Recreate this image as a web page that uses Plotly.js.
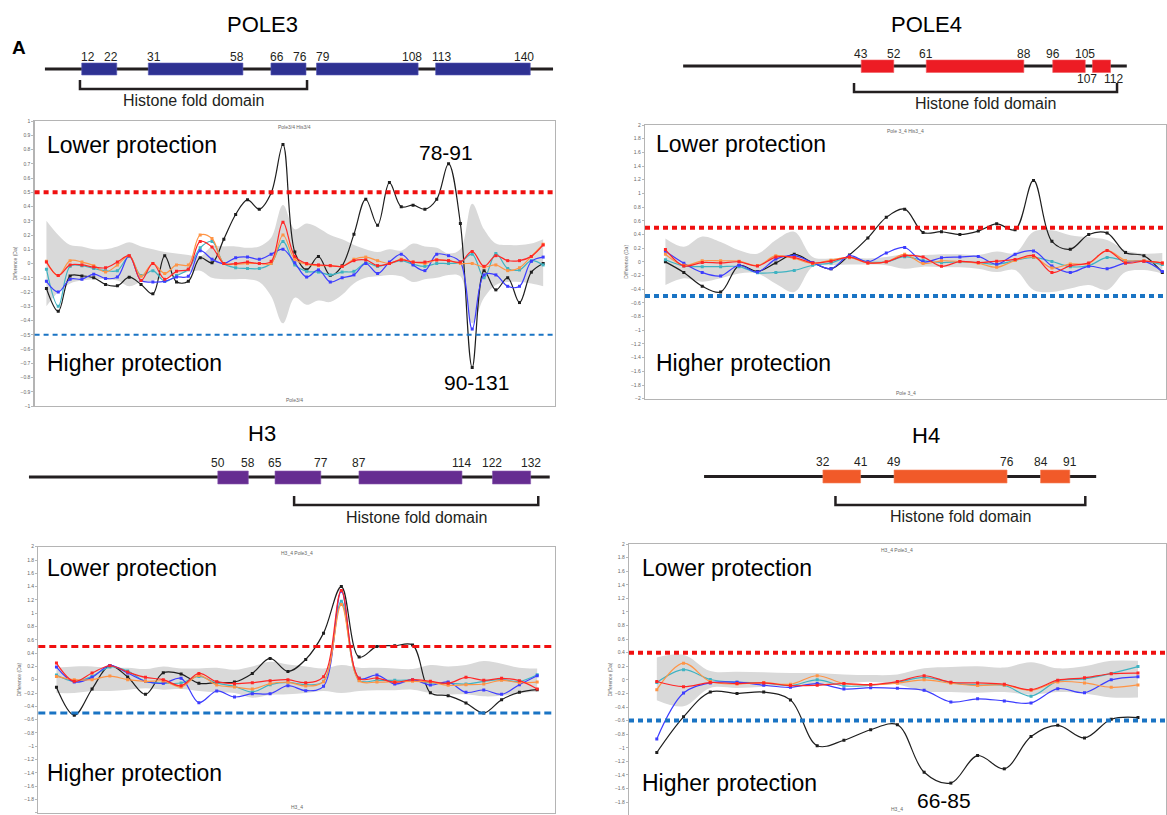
<!DOCTYPE html>
<html><head><meta charset="utf-8">
<script src="https://cdn.plot.ly/plotly-3.0.1.min.js"></script>
<style>html,body{margin:0;padding:0;background:#fff}#chart{width:1167px;height:815px}</style>
</head><body><div id="chart"></div>
<script>
// ================= DATA =================
// Domain diagrams (residue numbers)
const pole3Starts = [12, 31, 66, 79, 113];
const pole3Ends   = [22, 58, 76, 108, 140];
const pole3Backbone = [1.5, 146.5];
const pole3Fold = [11.5, 76.3];

const pole4Starts = [43, 61, 96, 107];
const pole4Ends   = [52, 88, 105, 112];
const pole4Backbone = [-6.3, 116.5];
const pole4Fold = [41, 113.8];

const h3Starts = [50, 65, 87, 122];
const h3Ends   = [58, 77, 114, 132];
const h3Backbone = [0.5, 137];
const h3Fold = [70, 134];

const h4Starts = [32, 49, 84];
const h4Ends   = [41, 76, 91];
const h4Backbone = [3.6, 97.3];
const h4Fold = [35, 94.7];

// Deuterium uptake difference plots (Da), one value per peptide
const pole3Black  = [-0.175,-0.335,-0.087,-0.087,-0.10,-0.147,-0.157,-0.096,-0.147,-0.213,0.054,-0.129,-0.124,0.04,0.005,0.171,0.344,0.447,0.381,0.494,0.835,0.08,-0.044,0.049,-0.084,-0.016,0.206,0.451,0.269,0.568,0.398,0.409,0.381,0.451,0.70,0.281,-0.73,-0.051,-0.185,-0.10,-0.274,-0.061,0.0];
const pole3Red    = [0.01,-0.085,-0.01,-0.01,-0.025,-0.03,0.01,0.055,-0.12,0,-0.11,-0.055,-0.04,0.155,0.115,0,0,0.01,0,0.015,0.29,0.05,0,-0.01,-0.015,-0.02,0.02,0.025,-0.015,0,0.025,0.01,0.01,0.025,0.02,0.01,0.085,-0.02,0.055,0.02,0.02,0.05,0.13];
const pole3Orange = [0.015,-0.085,0.02,0.01,-0.015,-0.06,-0.01,0.055,-0.09,0,-0.07,-0.01,-0.01,0.2,0.175,0,-0.005,0,0,0,0.2,0.03,-0.005,-0.015,-0.015,-0.02,0.03,0.045,0.02,0,0.03,0.01,0,0.025,0.02,0,0,-0.025,-0.01,-0.05,-0.03,0.05,0.135];
const pole3Teal   = [-0.04,-0.3,-0.02,-0.015,-0.035,-0.05,-0.05,0.05,-0.085,-0.05,-0.125,-0.085,-0.04,0.11,0.155,0,-0.03,-0.035,-0.035,0,0.155,-0.01,-0.055,-0.06,-0.08,-0.06,-0.055,0.005,-0.02,0,0.02,-0.005,-0.02,0,0,0.01,0.065,-0.1,0.07,-0.035,-0.045,0.02,-0.01];
const pole3Blue   = [-0.125,-0.2,-0.11,-0.11,-0.075,-0.105,-0.095,0.055,-0.12,-0.13,-0.125,-0.095,-0.09,0.09,0.03,0,0.04,0.045,0.03,0.065,0.1,0.005,-0.095,-0.045,-0.13,-0.1,-0.08,0,-0.07,0.01,0.065,-0.01,-0.05,0.065,0.055,0.01,-0.46,-0.08,-0.08,-0.16,-0.16,0.015,0.045];
const pole3BandHi = [0.30,0.20,0.13,0.12,0.10,0.10,0.12,0.15,0.12,0.10,0.08,0.07,0.06,0.05,0.12,0.12,0.12,0.11,0.12,0.18,0.41,0.24,0.28,0.25,0.20,0.17,0.13,0.10,0.08,0.10,0.09,0.14,0.12,0.11,0.07,0.10,0.42,0.24,0.14,0.13,0.13,0.14,0.17];
const pole3BandLo = [-0.30,-0.20,-0.14,-0.12,-0.11,-0.11,-0.12,-0.16,-0.13,-0.12,-0.10,-0.08,-0.06,-0.05,-0.10,-0.11,-0.11,-0.11,-0.13,-0.23,-0.42,-0.24,-0.29,-0.26,-0.27,-0.22,-0.14,-0.10,-0.09,-0.08,-0.09,-0.13,-0.11,-0.10,-0.08,-0.09,-0.42,-0.24,-0.15,-0.13,-0.13,-0.14,-0.16];

const pole4Black  = [0,-0.155,-0.355,-0.44,-0.055,-0.14,-0.015,0.11,-0.01,-0.1,0.1,0.35,0.65,0.77,0.43,0.44,0.40,0.45,0.555,0.47,1.19,0.30,0.185,0.40,0.42,0.135,0.09,-0.155];
const pole4Red    = [0.18,-0.06,-0.01,-0.015,0,-0.06,0.07,0.065,-0.015,0.01,0.07,-0.015,0,0.09,0.07,-0.065,0.005,-0.01,0.01,0.035,0.09,-0.155,-0.055,-0.015,0.165,-0.015,0.01,-0.015];
const pole4Orange = [0.11,-0.05,0.015,0.015,0.01,-0.055,0.09,0.05,-0.025,0.025,0.06,-0.015,0,0.11,-0.025,0.015,0.005,-0.02,-0.08,0.02,0.07,-0.09,-0.03,-0.025,0.165,0.02,0.015,-0.015];
const pole4Teal   = [0.03,-0.06,-0.07,-0.07,-0.07,-0.16,-0.155,-0.125,-0.05,-0.015,0.07,0,0,0.075,0.02,-0.01,0,-0.01,-0.035,0.02,0.065,0.005,-0.07,-0.055,0.065,0.015,0.01,-0.04];
const pole4Blue   = [0.155,-0.02,-0.155,-0.205,-0.05,-0.15,0.04,0.09,-0.01,-0.1,0.09,0,0.13,0.21,0,0.06,0.07,0.08,-0.035,0.11,0.16,-0.06,-0.155,-0.065,-0.1,-0.015,0.01,-0.14];
const pole4BandHi = [0.34,0.22,0.37,0.29,0.17,0.12,0.32,0.44,0.07,0.05,0.06,0.05,0.07,0.11,0.10,0.11,0.11,0.10,0.15,0.13,0.44,0.46,0.39,0.36,0.32,0.17,0.12,0.13];
const pole4BandLo = [-0.34,-0.24,-0.29,-0.24,-0.17,-0.17,-0.32,-0.44,-0.07,-0.05,-0.04,-0.04,-0.05,-0.10,-0.07,-0.08,-0.08,-0.10,-0.15,-0.12,-0.41,-0.44,-0.39,-0.34,-0.41,-0.15,-0.12,-0.17];

const h3Black  = [-0.115,-0.535,-0.14,0.21,0.04,-0.22,0.105,0.085,-0.055,-0.04,-0.035,0.095,0.32,0.125,0.305,0.70,1.40,0.34,0.50,0.51,0.52,-0.195,-0.24,-0.35,-0.50,-0.30,-0.19,-0.15];
const h3Red    = [0.25,-0.025,0.1,0.21,0.115,0.035,0,-0.09,0.095,-0.03,-0.06,-0.045,-0.015,0,-0.045,0.045,1.34,0.02,0.025,-0.04,0,-0.025,-0.055,0.035,-0.01,0.02,-0.015,-0.14];
const h3Orange = [0.05,0,0,0.055,0,-0.025,-0.02,-0.11,0.065,-0.08,-0.11,-0.14,-0.06,-0.04,-0.095,-0.03,1.13,-0.015,-0.035,-0.03,-0.025,-0.035,-0.085,-0.075,-0.065,-0.01,-0.045,-0.035];
const h3Teal   = [0.07,-0.025,0.05,0.19,0.13,-0.025,-0.05,-0.05,0.05,-0.05,-0.1,-0.185,-0.075,-0.04,-0.075,-0.025,1.18,-0.01,-0.01,-0.01,-0.01,-0.05,-0.055,-0.065,-0.025,0,-0.025,0.075];
const h3Blue   = [0.19,-0.035,0.035,0.215,0.10,-0.025,-0.055,0.02,-0.345,-0.17,-0.26,-0.21,-0.21,-0.09,-0.165,-0.10,1.33,0.02,0.07,-0.065,0,-0.08,-0.035,-0.19,-0.155,-0.22,-0.075,0.06];
const h3BandHi = [0.18,0.20,0.20,0.18,0.18,0.16,0.20,0.17,0.17,0.18,0.15,0.20,0.27,0.23,0.20,0.17,0.22,0.18,0.18,0.17,0.16,0.22,0.20,0.22,0.28,0.24,0.18,0.17];
const h3BandLo = [-0.20,-0.20,-0.17,-0.17,-0.15,-0.13,-0.15,-0.14,-0.17,-0.19,-0.20,-0.27,-0.23,-0.22,-0.20,-0.17,-0.20,-0.17,-0.16,-0.16,-0.15,-0.20,-0.22,-0.22,-0.25,-0.24,-0.20,-0.18];

const h4Black  = [-1.07,-0.545,-0.18,-0.20,-0.18,-0.295,-0.97,-0.89,-0.735,-0.66,-1.36,-1.52,-1.115,-1.31,-0.835,-0.67,-0.855,-0.58,-0.555];
const h4Red    = [-0.025,-0.1,-0.04,-0.055,-0.045,-0.085,-0.08,-0.055,-0.07,-0.025,0.06,-0.035,-0.045,-0.065,-0.145,-0.005,0.03,0.09,0.1];
const h4Orange = [-0.145,0.245,-0.025,-0.06,-0.04,-0.065,0.06,-0.055,-0.075,-0.05,0,-0.05,-0.085,-0.075,-0.155,-0.03,-0.045,-0.11,-0.075];
const h4Teal   = [-0.04,0.15,0.005,-0.035,-0.045,-0.085,0,-0.09,-0.08,-0.035,0.035,-0.04,-0.075,-0.08,-0.24,-0.015,0.015,0.095,0.195];
const h4Blue   = [-0.87,-0.195,-0.045,-0.035,-0.08,-0.11,-0.055,-0.135,-0.115,-0.125,-0.155,-0.325,-0.28,-0.31,-0.34,-0.13,-0.19,0,0.045];
const h4BandHi = [0.33,0.37,0.13,0.12,0.11,0.10,0.10,0.08,0.07,0.08,0.17,0.19,0.20,0.18,0.26,0.17,0.20,0.28,0.28];
const h4BandLo = [-0.30,-0.39,-0.12,-0.12,-0.10,-0.09,-0.09,-0.06,-0.03,-0.07,-0.17,-0.18,-0.19,-0.18,-0.22,-0.18,-0.20,-0.26,-0.26];

// Significance thresholds (Da)
const upperThreshold = [0.5, 0.5, 0.5, 0.4];
const lowerThreshold = [-0.5, -0.5, -0.5, -0.6];

// Texts
const proteinNames = ['POLE3', 'POLE4', 'H3', 'H4'];
const plotTopTitles = ['Pole3/4 His3/4', 'Pole 3_4 His3_4', 'H3_4 Pole3_4', 'H3_4 Pole3_4'];
const plotBottomTitles = ['Pole3/4', 'Pole 3_4', 'H3_4', 'H3_4'];
const regionLabels = [['78-91', '90-131'], [], [], ['66-85']];

// ================= LAYOUT / DRAWING =================
const W = 1167, H = 815;
const P = px => px / W;
const Q = py => 1 - py / H;
const FONT = 'Liberation Sans, Arial, sans-serif';

const COL = {black:'#1e1e1e', red:'#ff2626', orange:'#ff9445', teal:'#3fb3c2', blue:'#3d3dff', band:'#d9d9d9'};

const panels = [
  {black:pole3Black, red:pole3Red, orange:pole3Orange, teal:pole3Teal, blue:pole3Blue, hi:pole3BandHi, lo:pole3BandLo,
   xdom:[34.6,555], ydom:[406,121], yrange:[-1,1], dtick:0.1, xr:[-1,43.0],
   redW:4, redDash:'5px,4px', blueW:2, blueDash:'5px,4px',
   lower:[45,145], higher:[45,363], regions:[[446,152],[476,383]]},
  {black:pole4Black, red:pole4Red, orange:pole4Orange, teal:pole4Teal, blue:pole4Blue, hi:pole4BandHi, lo:pole4BandLo,
   xdom:[645,1166], ydom:[398.7,125], yrange:[-2,2], dtick:0.2, xr:[-1.11,27.2],
   redW:4, redDash:'5px,4px', blueW:4, blueDash:'5px,4px',
   lower:[654,144], higher:[654,363], regions:[]},
  {black:h3Black, red:h3Red, orange:h3Orange, teal:h3Teal, blue:h3Blue, hi:h3BandHi, lo:h3BandLo,
   xdom:[38.3,555], ydom:[812.7,546.7], yrange:[-2,2], dtick:0.2, xr:[-1.02,28.0],
   redW:3, redDash:'7px,4px', blueW:3, blueDash:'7px,4px',
   lower:[45,568], higher:[45,773], regions:[]},
  {black:h4Black, red:h4Red, orange:h4Orange, teal:h4Teal, blue:h4Blue, hi:h4BandHi, lo:h4BandLo,
   xdom:[629,1165.5], ydom:[815,544], yrange:[-1.99,2], dtick:0.2, xr:[-1.04,19.03],
   redW:4, redDash:'5px,4px', blueW:4, blueDash:'5px,4px',
   lower:[640,568], higher:[640,783], regions:[[944,800]]}
];

const traces = [];
const shapes = [];
const annotations = [];
const layout = {
  width: W, height: H, margin:{l:0,r:0,t:0,b:0},
  paper_bgcolor:'#ffffff', plot_bgcolor:'rgba(0,0,0,0)',
  showlegend:false, font:{family:FONT, color:'#000'},
  shapes, annotations
};

panels.forEach((p, i) => {
  const n = i + 1;
  const xa = n === 1 ? 'x' : 'x' + n;
  const ya = n === 1 ? 'y' : 'y' + n;
  const xkey = n === 1 ? 'xaxis' : 'xaxis' + n;
  const ykey = n === 1 ? 'yaxis' : 'yaxis' + n;
  const idx = p.black.map((_, k) => k);
  layout[xkey] = {domain:[P(p.xdom[0]), P(p.xdom[1])], range:p.xr, anchor:ya,
    showticklabels:false, ticks:'', showgrid:false, zeroline:false,
    showline:true, mirror:true, linecolor:'#b4b4b4', linewidth:1.2};
  layout[ykey] = {domain:[Math.max(0,Q(p.ydom[0])), Q(p.ydom[1])], range:p.yrange, anchor:xa,
    dtick:p.dtick, tick0:0, ticks:'outside', ticklen:2, tickcolor:'#888', tickwidth:0.6,
    tickfont:{size:5, color:'#666'}, showgrid:false, zeroline:false,
    showline:true, mirror:true, linecolor:'#b4b4b4', linewidth:1.2,
    title:{text:'Difference (Da)', font:{size:5, color:'#666'}, standoff:2}};
  // grey confidence band
  traces.push({x:idx, y:p.lo, xaxis:xa, yaxis:ya, mode:'lines', line:{width:0, shape:'spline', color:COL.band}, hoverinfo:'skip'});
  traces.push({x:idx, y:p.hi, xaxis:xa, yaxis:ya, mode:'lines', fill:'tonexty', fillcolor:COL.band, line:{width:0, shape:'spline', color:COL.band}, hoverinfo:'skip'});
  // series
  [['black',p.black],['teal',p.teal],['blue',p.blue],['orange',p.orange],['red',p.red]].forEach(([c, ys]) => {
    traces.push({x:idx, y:ys, xaxis:xa, yaxis:ya, mode:'lines+markers',
      line:{color:COL[c], width:1.2, shape:'spline', smoothing:1},
      marker:{color:COL[c], size:3, symbol:'square'}});
  });
  // thresholds
  shapes.push({type:'line', xref:xa + ' domain', yref:ya, x0:0, x1:1, y0:upperThreshold[i], y1:upperThreshold[i],
    line:{color:'#f01010', width:p.redW, dash:p.redDash}});
  shapes.push({type:'line', xref:xa + ' domain', yref:ya, x0:0, x1:1, y0:lowerThreshold[i], y1:lowerThreshold[i],
    line:{color:'#1a74c4', width:p.blueW, dash:p.blueDash}});
  // tiny plot titles
  annotations.push({xref:xa + ' domain', yref:ya + ' domain', x:0.5, y:1, yanchor:'top', yshift:-1, showarrow:false,
    text:plotTopTitles[i], font:{size:5, color:'#666'}});
  annotations.push({xref:xa + ' domain', yref:ya + ' domain', x:0.5, y:0, yanchor:'bottom', yshift:1, showarrow:false,
    text:plotBottomTitles[i], font:{size:5, color:'#666'}});
  // big labels
  annotations.push({xref:'paper', yref:'paper', x:P(p.lower[0]), y:Q(p.lower[1]), xanchor:'left', yanchor:'middle',
    showarrow:false, text:'Lower protection', font:{size:23, color:'#000'}});
  annotations.push({xref:'paper', yref:'paper', x:P(p.higher[0]), y:Q(p.higher[1]), xanchor:'left', yanchor:'middle',
    showarrow:false, text:'Higher protection', font:{size:23, color:'#000'}});
  regionLabels[i].forEach((t, k) => {
    annotations.push({xref:'paper', yref:'paper', x:P(p.regions[k][0]), y:Q(p.regions[k][1]), xanchor:'center', yanchor:'middle',
      showarrow:false, text:t, font:{size:21, color:'#000'}});
  });
});

// ---- domain diagrams: x axes in residue numbers, y axis in pixel rows ----
layout.yaxis5 = {domain:[0,1], range:[H,0], visible:false, anchor:'x5', fixedrange:true};
const diagrams = [
  {starts:pole3Starts, ends:pole3Ends, backbone:pole3Backbone, fold:pole3Fold, color:'#2e3192', edge:'#5a5db8',
   range:[0,150], pix:[39.67,565.3], title:[262,24],
   rows:{num:57, top:63, bot:75, line:69, bTop:80, bBot:89, text:100, below:80}, shift:6, belowBox:-1},
  {starts:pole4Starts, ends:pole4Ends, backbone:pole4Backbone, fold:pole4Fold, color:'#ed1c24', edge:'#f25a60',
   range:[-10,125], pix:[669.77,1157.5], title:[926,24],
   rows:{num:54, top:60, bot:72.5, line:66, bTop:83, bBot:92, text:103, below:79}, shift:0, belowBox:3, belowShift:[-5,3]},
  {starts:h3Starts, ends:h3Ends, backbone:h3Backbone, fold:h3Fold, color:'#662d91', edge:'#8a5bb0',
   range:[0,140], pix:[27.05,561.15], title:[262,433],
   rows:{num:463, top:471, bot:484, line:477, bTop:496, bBot:505, text:517, below:490}, shift:0, belowBox:-1},
  {starts:h4Starts, ends:h4Ends, backbone:h4Backbone, fold:h4Fold, color:'#f15a29', edge:'#f5845e',
   range:[0,105], pix:[689,1128.4], title:[926,435],
   rows:{num:462, top:470, bot:483, line:476.5, bTop:496, bBot:505, text:516, below:490}, shift:0, belowBox:-1}
];

diagrams.forEach((d, i) => {
  const n = i + 5;
  const xa = 'x' + n;
  layout['xaxis' + n] = {domain:[P(d.pix[0]), P(d.pix[1])], range:d.range, anchor:'y5', visible:false, fixedrange:true};
  // backbone
  traces.push({x:d.backbone, y:[d.rows.line, d.rows.line], xaxis:xa, yaxis:'y5', mode:'lines',
    line:{color:'#231f20', width:3}, hoverinfo:'skip'});
  // bracket for histone fold domain
  traces.push({x:[d.fold[0], d.fold[0], d.fold[1], d.fold[1]], y:[d.rows.bTop, d.rows.bBot, d.rows.bBot, d.rows.bTop],
    xaxis:xa, yaxis:'y5', mode:'lines', line:{color:'#231f20', width:2.5}, hoverinfo:'skip'});
  annotations.push({xref:xa, yref:'y5', x:(d.fold[0] + d.fold[1]) / 2, y:d.rows.text, showarrow:false,
    text:'Histone fold domain', font:{size:16, color:'#231f20'}, xanchor:'center', yanchor:'middle'});
  // boxes and residue labels
  d.starts.forEach((s, k) => {
    const e = d.ends[k];
    shapes.push({type:'rect', xref:xa, yref:'y5', x0:s, x1:e, y0:d.rows.top, y1:d.rows.bot,
      fillcolor:d.color, line:{color:d.edge, width:0.6}, layer:'above'});
    const below = (k === d.belowBox);
    const row = below ? d.rows.below : d.rows.num;
    const sh = below ? d.belowShift : [d.shift, -d.shift];
    annotations.push({xref:xa, yref:'y5', x:s, y:row, xshift:sh[0], showarrow:false, text:String(s),
      font:{size:12, color:'#231f20'}, xanchor:'center', yanchor:'middle'});
    annotations.push({xref:xa, yref:'y5', x:e, y:row, xshift:sh[1], showarrow:false, text:String(e),
      font:{size:12, color:'#231f20'}, xanchor:'center', yanchor:'middle'});
  });
  // protein name
  annotations.push({xref:'paper', yref:'paper', x:P(d.title[0]), y:Q(d.title[1]), showarrow:false,
    text:proteinNames[i], font:{size:22, color:'#000'}, xanchor:'center', yanchor:'middle'});
});

// panel letter
annotations.push({xref:'paper', yref:'paper', x:P(19), y:Q(47), showarrow:false, text:'<b>A</b>',
  font:{size:19, color:'#000'}, xanchor:'center', yanchor:'middle'});

Plotly.newPlot('chart', traces, layout, {staticPlot:true, displayModeBar:false});
</script>
</body></html>
